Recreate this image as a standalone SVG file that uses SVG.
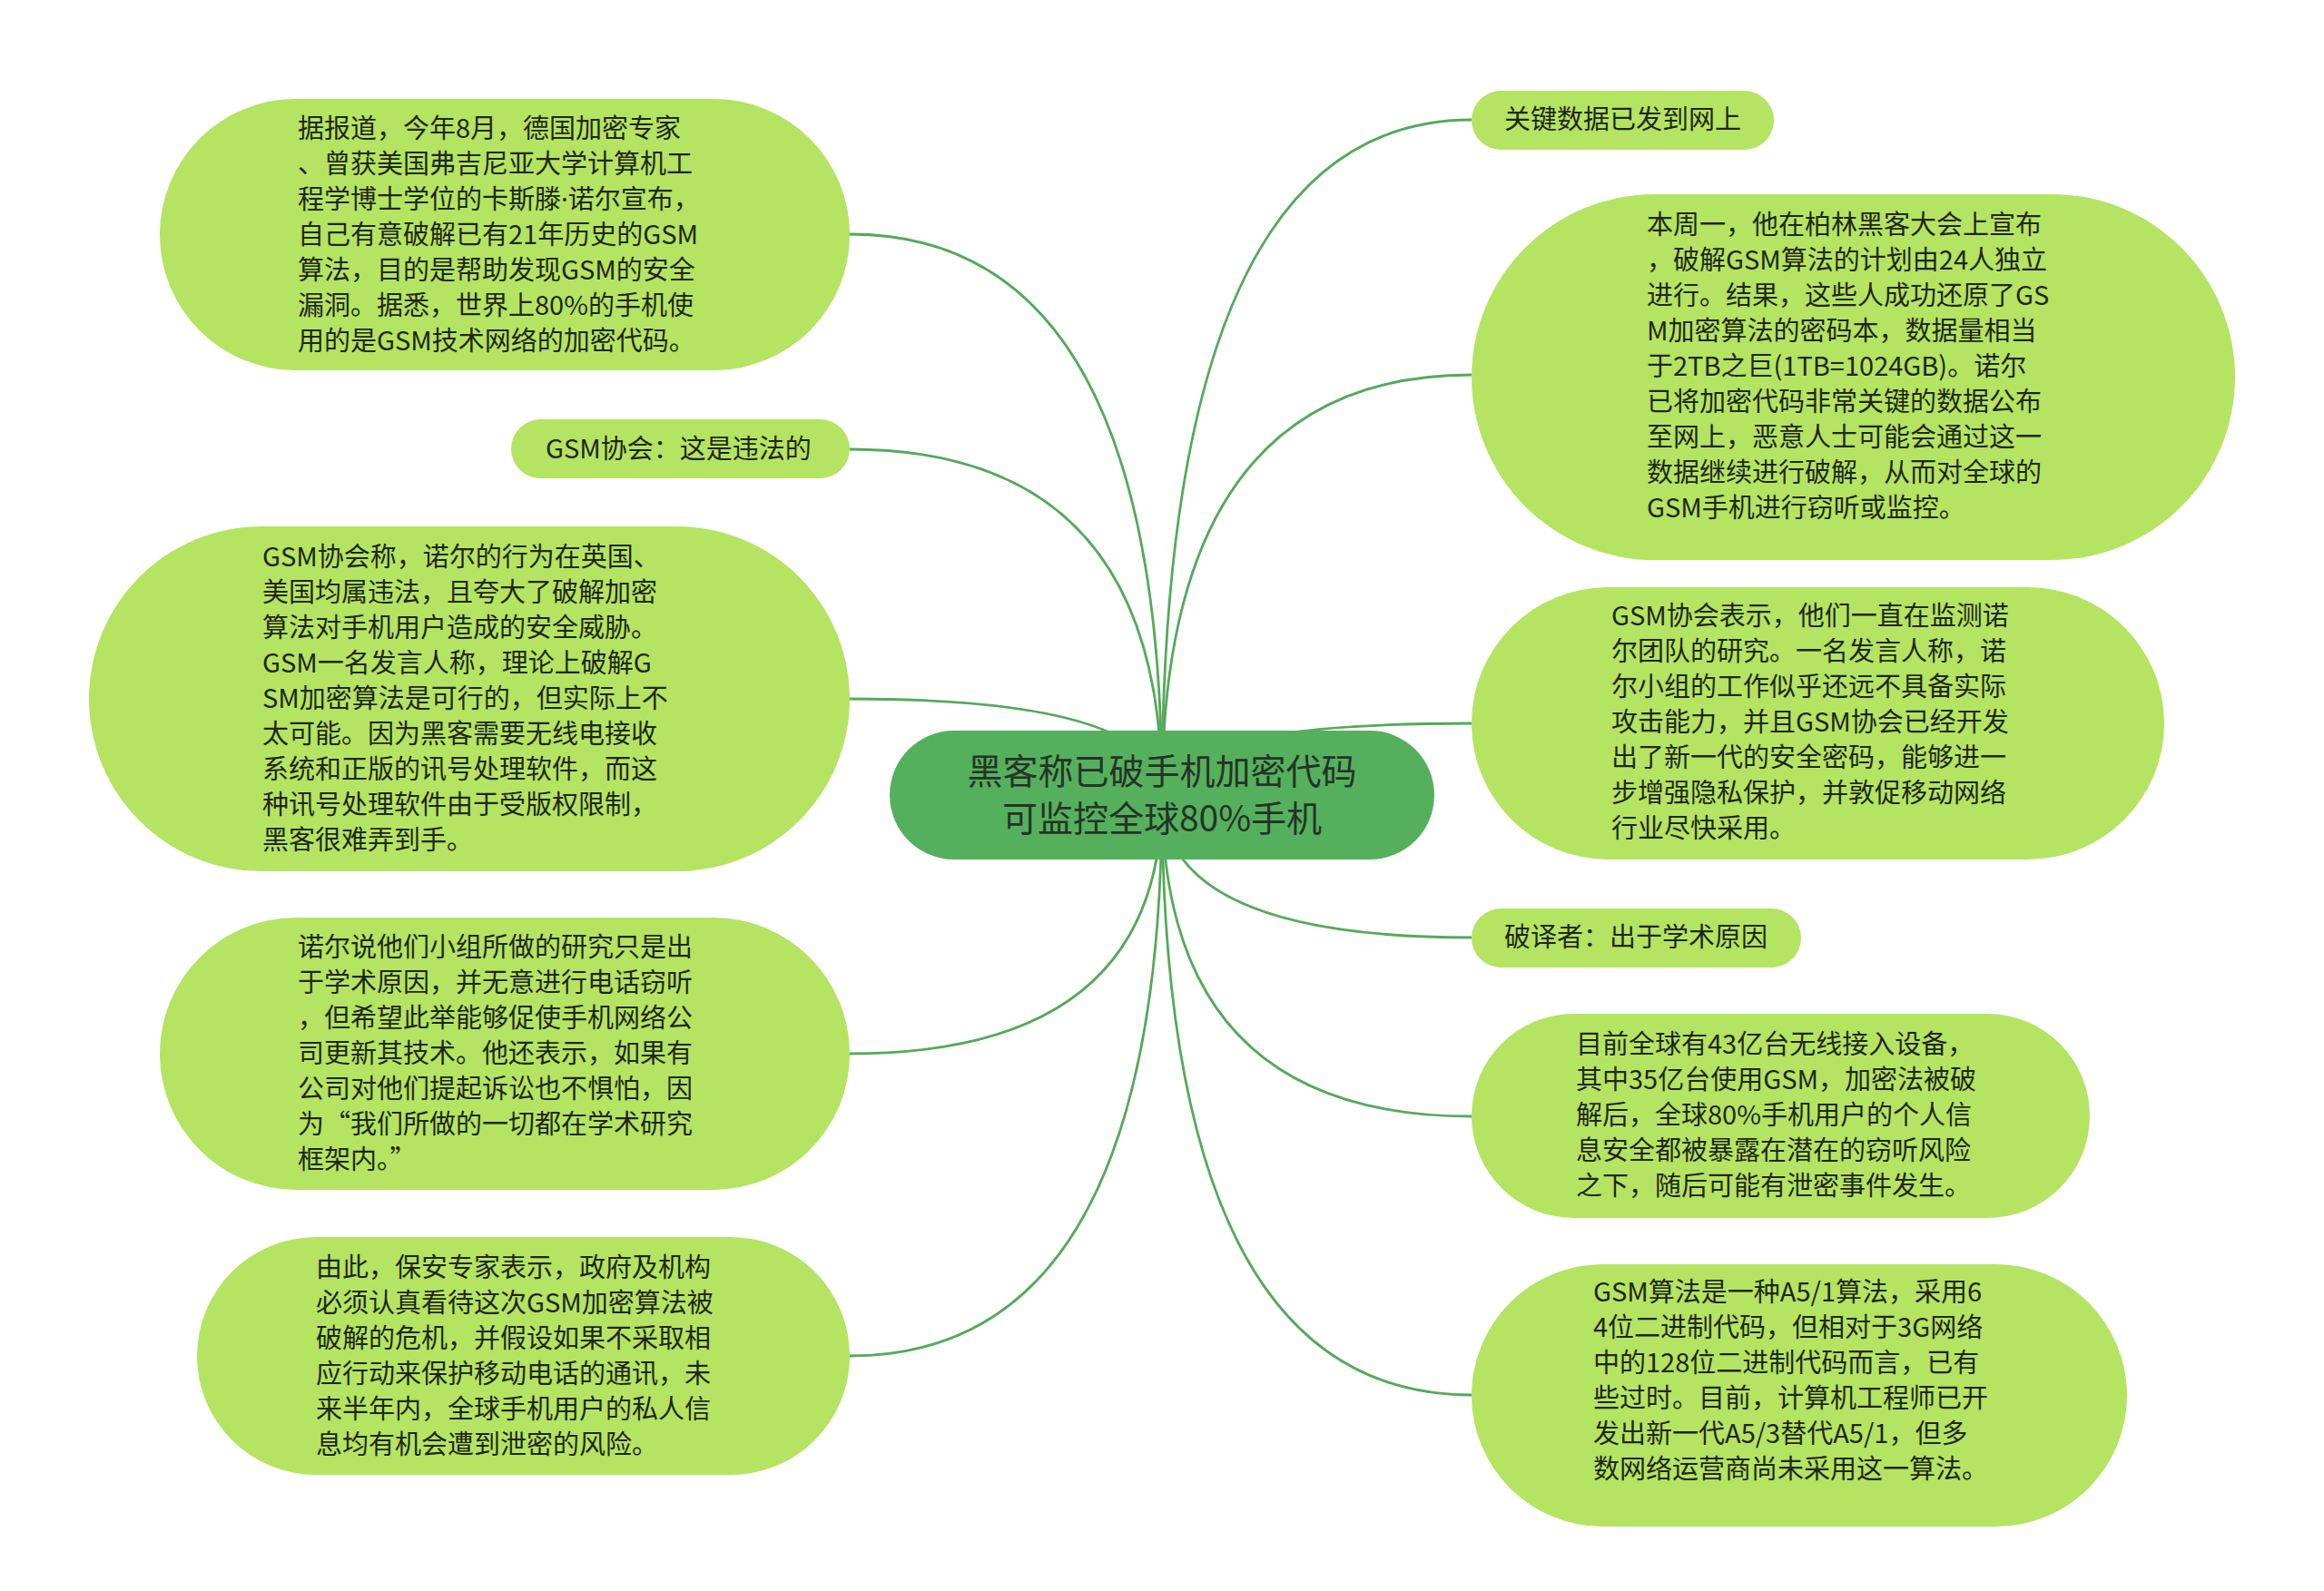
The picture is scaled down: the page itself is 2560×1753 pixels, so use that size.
<svg xmlns="http://www.w3.org/2000/svg" width="2560" height="1753" viewBox="0 0 2560 1753">
<style>
.bg{fill:#ffffff}
.link{fill:none;stroke:#55a95c;stroke-width:2.8}
.node{fill:#b4e462}
.root{fill:#55b05d}
.t{font-family:"Microsoft YaHei","Noto Sans CJK SC","Noto Sans",sans-serif;font-size:29px;fill:#1f2716}
.rt{font-family:"Microsoft YaHei","Noto Sans CJK SC","Noto Sans",sans-serif;font-size:39px;fill:#263326;text-anchor:middle}
.dot{font-family:"Noto Sans","Liberation Sans",sans-serif}
</style>
<rect class="bg" x="0" y="0" width="2560" height="1753"/>
<g id="connectors">
<path class="link" d="M1280 876 Q1280 258 936 258"/>
<path class="link" d="M1280 876 Q1280 495 936 495"/>
<path class="link" d="M1280 876 Q1280 770 936 770"/>
<path class="link" d="M1280 876 Q1280 1161 936 1161"/>
<path class="link" d="M1280 876 Q1280 1494 936 1494"/>
<path class="link" d="M1280 876 Q1280 132 1621 132"/>
<path class="link" d="M1280 876 Q1280 413 1621 413"/>
<path class="link" d="M1280 876 Q1280 797 1621 797"/>
<path class="link" d="M1280 876 Q1280 1033 1621 1033"/>
<path class="link" d="M1280 876 Q1280 1230 1621 1230"/>
<path class="link" d="M1280 876 Q1280 1537 1621 1537"/>
</g>
<g id="node-a">
<rect class="node" x="176" y="109" width="760" height="299" rx="149.5" ry="149.5"/>
<text class="t"><tspan x="328" y="152">据报道，今年8月，德国加密专家</tspan><tspan x="328" y="191">、曾获美国弗吉尼亚大学计算机工</tspan><tspan x="328" y="230">程学博士学位的卡斯滕<tspan class="dot">·</tspan>诺尔宣布，</tspan><tspan x="328" y="269">自己有意破解已有21年历史的GSM</tspan><tspan x="328" y="308">算法，目的是帮助发现GSM的安全</tspan><tspan x="328" y="347">漏洞。据悉，世界上80%的手机使</tspan><tspan x="328" y="386">用的是GSM技术网络的加密代码。</tspan></text>
</g>
<g id="node-b">
<rect class="node" x="563" y="462" width="373" height="65" rx="32.5" ry="32.5"/>
<text class="t" x="601" y="505">GSM协会：这是违法的</text>
</g>
<g id="node-c">
<rect class="node" x="98" y="580" width="838" height="380" rx="190" ry="190"/>
<text class="t"><tspan x="289" y="624">GSM协会称，诺尔的行为在英国、</tspan><tspan x="289" y="663">美国均属违法，且夸大了破解加密</tspan><tspan x="289" y="702">算法对手机用户造成的安全威胁。</tspan><tspan x="289" y="741">GSM一名发言人称，理论上破解G</tspan><tspan x="289" y="780">SM加密算法是可行的，但实际上不</tspan><tspan x="289" y="819">太可能。因为黑客需要无线电接收</tspan><tspan x="289" y="858">系统和正版的讯号处理软件，而这</tspan><tspan x="289" y="897">种讯号处理软件由于受版权限制，</tspan><tspan x="289" y="936">黑客很难弄到手。</tspan></text>
</g>
<g id="node-d">
<rect class="node" x="176" y="1011" width="760" height="300" rx="150" ry="150"/>
<text class="t"><tspan x="328" y="1054">诺尔说他们小组所做的研究只是出</tspan><tspan x="328" y="1093">于学术原因，并无意进行电话窃听</tspan><tspan x="328" y="1132">，但希望此举能够促使手机网络公</tspan><tspan x="328" y="1171">司更新其技术。他还表示，如果有</tspan><tspan x="328" y="1210">公司对他们提起诉讼也不惧怕，因</tspan><tspan x="328" y="1249">为“我们所做的一切都在学术研究</tspan><tspan x="328" y="1288">框架内。”</tspan></text>
</g>
<g id="node-e">
<rect class="node" x="217" y="1363" width="719" height="262" rx="131" ry="131"/>
<text class="t"><tspan x="348" y="1407">由此，保安专家表示，政府及机构</tspan><tspan x="348" y="1446">必须认真看待这次GSM加密算法被</tspan><tspan x="348" y="1485">破解的危机，并假设如果不采取相</tspan><tspan x="348" y="1524">应行动来保护移动电话的通讯，未</tspan><tspan x="348" y="1563">来半年内，全球手机用户的私人信</tspan><tspan x="348" y="1602">息均有机会遭到泄密的风险。</tspan></text>
</g>
<g id="node-f">
<rect class="node" x="1621" y="100" width="333" height="65" rx="32.5" ry="32.5"/>
<text class="t" x="1657" y="142">关键数据已发到网上</text>
</g>
<g id="node-g">
<rect class="node" x="1621" y="214" width="841" height="403" rx="201.5" ry="201.5"/>
<text class="t"><tspan x="1814" y="258">本周一，他在柏林黑客大会上宣布</tspan><tspan x="1814" y="297">，破解GSM算法的计划由24人独立</tspan><tspan x="1814" y="336">进行。结果，这些人成功还原了GS</tspan><tspan x="1814" y="375">M加密算法的密码本，数据量相当</tspan><tspan x="1814" y="414">于2TB之巨(1TB=1024GB)。诺尔</tspan><tspan x="1814" y="453">已将加密代码非常关键的数据公布</tspan><tspan x="1814" y="492">至网上，恶意人士可能会通过这一</tspan><tspan x="1814" y="531">数据继续进行破解，从而对全球的</tspan><tspan x="1814" y="570">GSM手机进行窃听或监控。</tspan></text>
</g>
<g id="node-h">
<rect class="node" x="1621" y="647" width="763" height="300" rx="150" ry="150"/>
<text class="t"><tspan x="1775" y="689">GSM协会表示，他们一直在监测诺</tspan><tspan x="1775" y="728">尔团队的研究。一名发言人称，诺</tspan><tspan x="1775" y="767">尔小组的工作似乎还远不具备实际</tspan><tspan x="1775" y="806">攻击能力，并且GSM协会已经开发</tspan><tspan x="1775" y="845">出了新一代的安全密码，能够进一</tspan><tspan x="1775" y="884">步增强隐私保护，并敦促移动网络</tspan><tspan x="1775" y="923">行业尽快采用。</tspan></text>
</g>
<g id="node-i">
<rect class="node" x="1621" y="1001" width="363" height="65" rx="32.5" ry="32.5"/>
<text class="t" x="1657" y="1043">破译者：出于学术原因</text>
</g>
<g id="node-j">
<rect class="node" x="1621" y="1117" width="681" height="225" rx="112.5" ry="112.5"/>
<text class="t"><tspan x="1736" y="1161">目前全球有43亿台无线接入设备，</tspan><tspan x="1736" y="1200">其中35亿台使用GSM，加密法被破</tspan><tspan x="1736" y="1239">解后，全球80%手机用户的个人信</tspan><tspan x="1736" y="1278">息安全都被暴露在潜在的窃听风险</tspan><tspan x="1736" y="1317">之下，随后可能有泄密事件发生。</tspan></text>
</g>
<g id="node-k">
<rect class="node" x="1621" y="1393" width="722" height="289" rx="144.5" ry="144.5"/>
<text class="t"><tspan x="1755" y="1434">GSM算法是一种A5/1算法，采用6</tspan><tspan x="1755" y="1473">4位二进制代码，但相对于3G网络</tspan><tspan x="1755" y="1512">中的128位二进制代码而言，已有</tspan><tspan x="1755" y="1551">些过时。目前，计算机工程师已开</tspan><tspan x="1755" y="1590">发出新一代A5/3替代A5/1，但多</tspan><tspan x="1755" y="1629">数网络运营商尚未采用这一算法。</tspan></text>
</g>
<g id="root">
<rect class="root" x="980" y="805" width="600" height="142" rx="71" ry="71"/>
<text class="rt"><tspan x="1280" y="864">黑客称已破手机加密代码</tspan><tspan x="1280" y="916">可监控全球80%手机</tspan></text>
</g>
</svg>
